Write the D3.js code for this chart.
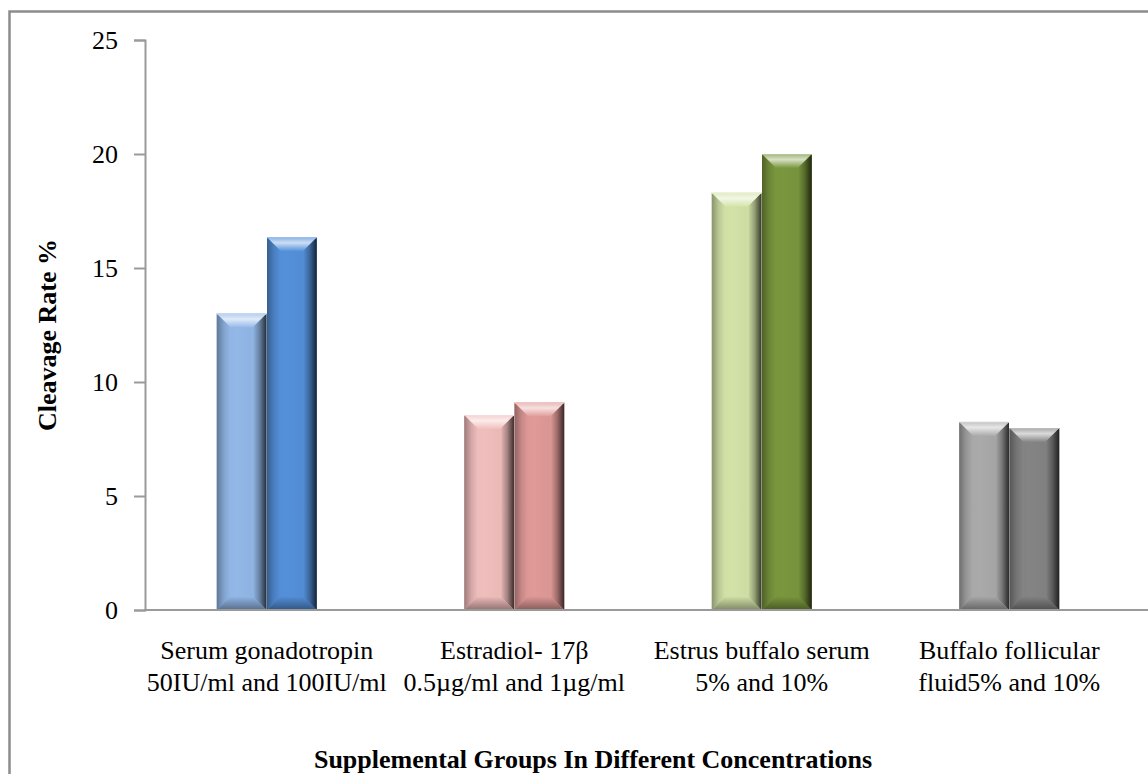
<!DOCTYPE html>
<html>
<head>
<meta charset="utf-8">
<script src="https://cdn.jsdelivr.net/npm/d3@7"></script>
<style>
  html, body { margin: 0; padding: 0; background: #fff; }
  svg { display: block; }
  text { font-family: "Liberation Serif", "Times New Roman", serif; fill: #000; }
</style>
</head>
<body>
<svg id="chart" width="1148" height="774"></svg>
<script>
// Group labels (two lines each)
const categories = [
  ["Serum gonadotropin", "50IU/ml and 100IU/ml"],
  ["Estradiol- 17\u03b2", "0.5\u00b5g/ml and 1\u00b5g/ml"],
  ["Estrus buffalo serum", "5% and 10%"],
  ["Buffalo follicular", "fluid5% and 10%"]
];
// Cleavage rate for the lower and higher concentration in each group
const lowConc  = [13.0, 8.55, 18.3, 8.25];
const highConc = [16.35, 9.1, 20.0, 7.98];
const yTicks = [0, 5, 10, 15, 20, 25];
const lowColors  = ["#93B8E8", "#F0BEBD", "#D3E3A8", "#AAAAAA"];
const highColors = ["#5490DA", "#E09A98", "#7A973E", "#848484"];

const svg = d3.select("#chart");

// outer frame
svg.append("rect")
  .attr("x", 9.5).attr("y", 11.5).attr("width", 1200).attr("height", 900)
  .attr("fill", "none").attr("stroke", "#8c8c8c").attr("stroke-width", 2.5);

const x0 = d3.scaleBand().domain(d3.range(categories.length)).range([143, 1133]);
const bw0 = x0.bandwidth();
const x1 = d3.scaleBand().domain([0, 1]).range([bw0 * 0.298, bw0 * 0.702]).paddingInner(0.01);
const y = d3.scaleLinear().domain([0, 25]).range([610, 40]);

// gradients producing the bevelled bar look
const defs = svg.append("defs");
function mix(a, b, t) { return d3.interpolateRgb(a, b)(t); }
function makeGrad(id, x2, y2, stops) {
  const g = defs.append("linearGradient").attr("id", id)
    .attr("x1", 0).attr("y1", 0).attr("x2", x2).attr("y2", y2);
  stops.forEach(s => g.append("stop").attr("offset", s[0]).attr("stop-color", s[1]));
}
function gradsFor(key, c) {
  makeGrad(key + "-top", 0, 1, [[0, mix(c, "#fff", 0.3)], [0.4, mix(c, "#fff", 0.7)], [1, c]]);
  makeGrad(key + "-left", 1, 0, [[0, mix(c, "#000", 0.35)], [0.5, mix(c, "#000", 0.12)], [1, c]]);
  makeGrad(key + "-right", 1, 0, [[0, c], [0.5, mix(c, "#000", 0.3)], [1, mix(c, "#000", 0.75)]]);
  makeGrad(key + "-bottom", 0, 1, [[0, c], [1, mix(c, "#000", 0.4)]]);
  makeGrad(key + "-body", 1, 0, [[0, mix(c, "#000", 0.04)], [0.4, c], [1, mix(c, "#000", 0.06)]]);
}
lowColors.forEach((c, i) => gradsFor("lo" + i, c));
highColors.forEach((c, i) => gradsFor("hi" + i, c));

function drawBar(g, key, bx, by, bw, bh, c) {
  const b = Math.min(14, bw / 2 - 2, bh / 2);
  const x2 = bx + bw, y2 = by + bh;
  g.append("rect").attr("x", bx).attr("y", by).attr("width", bw).attr("height", bh)
    .attr("fill", `url(#${key}-body)`);
  g.append("polygon").attr("points", [[bx, by], [bx + b, by + b], [bx + b, y2 - b], [bx, y2]].join(" "))
    .attr("fill", `url(#${key}-left)`);
  g.append("polygon").attr("points", [[x2, by], [x2 - b, by + b], [x2 - b, y2 - b], [x2, y2]].join(" "))
    .attr("fill", `url(#${key}-right)`);
  g.append("polygon").attr("points", [[bx, y2], [bx + b, y2 - b], [x2 - b, y2 - b], [x2, y2]].join(" "))
    .attr("fill", `url(#${key}-bottom)`);
  g.append("polygon").attr("points", [[bx, by], [x2, by], [x2 - b, by + b], [bx + b, by + b]].join(" "))
    .attr("fill", `url(#${key}-top)`);
  g.append("line").attr("x1", bx).attr("x2", x2).attr("y1", by + 0.5).attr("y2", by + 0.5)
    .attr("stroke", mix(c, "#fff", 0.45)).attr("stroke-width", 1);
}

const bars = svg.append("g");
categories.forEach((cat, i) => {
  const gx = x0(i);
  [[lowConc[i], lowColors[i], "lo" + i, 0], [highConc[i], highColors[i], "hi" + i, 1]].forEach(([v, c, key, k]) => {
    drawBar(bars, key, gx + x1(k), y(v), x1.bandwidth(), y(0) - y(v), c);
  });
});

// y axis
const yAxis = svg.append("g").attr("transform", "translate(145,0)")
  .call(d3.axisLeft(y).tickValues(yTicks).tickSize(11).tickPadding(16).tickFormat(d3.format("d")));
yAxis.select(".domain").attr("stroke", "#9a9a9a").attr("stroke-width", 2);
yAxis.selectAll(".tick line").attr("stroke", "#9a9a9a").attr("stroke-width", 2);
yAxis.selectAll(".tick text").style("font-size", "26px").style("font-family", "Liberation Serif").attr("fill", "#000");

// x axis baseline
svg.append("line").attr("x1", 144).attr("x2", 1148).attr("y1", 610).attr("y2", 610)
  .attr("stroke", "#9a9a9a").attr("stroke-width", 2);

// category labels
const labels = svg.append("g");
categories.forEach((cat, i) => {
  const cx = x0(i) + x0.bandwidth() / 2;
  const t = labels.append("text").attr("text-anchor", "middle").style("font-size", "26px");
  cat.forEach((line, j) => {
    t.append("tspan").attr("x", cx).attr("y", 659 + j * 32).text(line);
  });
});

// axis titles
svg.append("text").attr("x", 593).attr("y", 768).attr("text-anchor", "middle")
  .style("font-size", "26px").style("font-weight", "bold")
  .text("Supplemental Groups In Different Concentrations");
svg.append("text").attr("transform", "translate(56,335) rotate(-90)").attr("text-anchor", "middle")
  .style("font-size", "26px").style("font-weight", "bold")
  .text("Cleavage Rate %");
</script>
</body>
</html>
